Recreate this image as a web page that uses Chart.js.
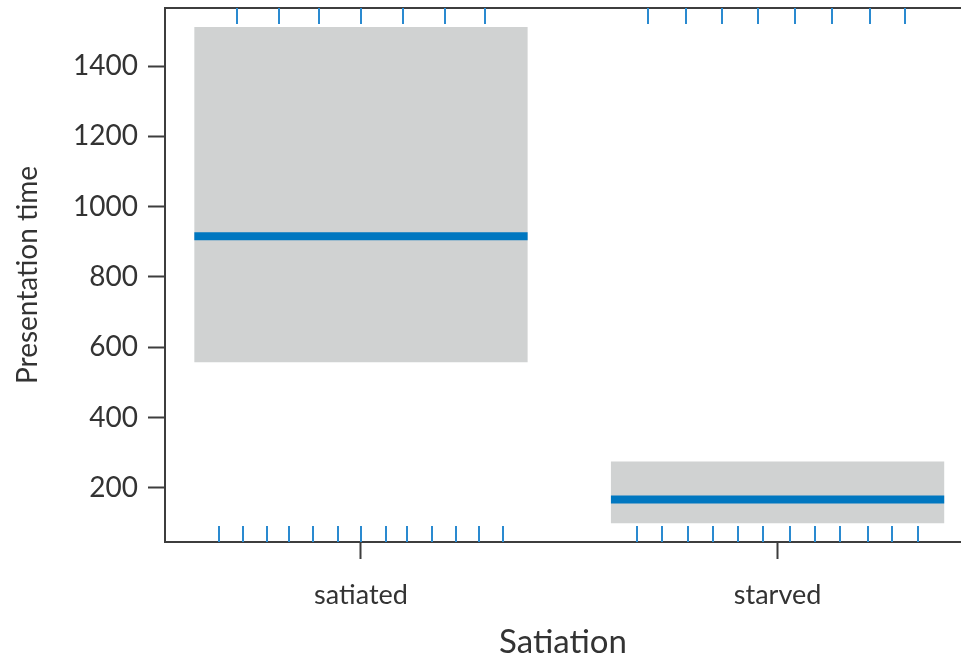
<!DOCTYPE html>
<html>
<head>
<meta charset="utf-8">
<script src="https://cdn.jsdelivr.net/npm/chart.js@4/dist/chart.umd.min.js"></script>
<style>
  html, body { margin: 0; padding: 0; background: #ffffff; overflow: hidden; }
  #wrap { width: 961px; height: 662px; }
</style>
</head>
<body>
<div id="wrap"><canvas id="c" width="961" height="662"></canvas></div>
<script>
// Effect of satiation on presentation time: fitted value with confidence band
const categories = ['satiated', 'starved'];
const fitValues = [916, 167];
const lowerValues = [557, 99];
const upperValues = [1511, 275];
const yTickValues = [200, 400, 600, 800, 1000, 1200, 1400];
const xTickValues = [1, 2];

// Rug marks (jittered observation positions along the category axis)
const rugTop = [0.703, 0.804, 0.900, 1.000, 1.102, 1.202, 1.298,
                1.688, 1.779, 1.866, 1.952, 2.043, 2.130, 2.222, 2.307];
const rugBottom = [0.659, 0.717, 0.774, 0.827, 0.885, 0.945, 1.000, 1.060, 1.110, 1.170, 1.228, 1.283, 1.341,
                   1.663, 1.722, 1.784, 1.845, 1.904, 1.966, 2.029, 2.091, 2.149, 2.216, 2.275, 2.336];

const axisColor = '#3d3d3d';
const textColor = '#333333';
const bandColor = '#d0d2d2';
const fitColor = '#0077c0';
const rugColor = '#2a8ad0';
const bandShare = 0.8;
const fontFamily = 'Lato, "Open Sans", sans-serif';

const bandData = categories.map((c, i) => ({ x: xTickValues[i], y: [lowerValues[i], upperValues[i]] }));
const fitDatasets = categories.map((c, i) => ({
  type: 'line',
  data: [
    { x: xTickValues[i] - bandShare / 2, y: fitValues[i] },
    { x: xTickValues[i] + bandShare / 2, y: fitValues[i] }
  ],
  borderColor: fitColor,
  borderWidth: 8,
  borderCapStyle: 'butt',
  pointRadius: 0,
  fill: false,
  order: 0
}));

const framePlugin = {
  id: 'frameAndRug',
  afterDatasetsDraw(chart) {
    const { ctx, chartArea, scales } = chart;
    ctx.save();
    // top edge of the panel
    ctx.strokeStyle = axisColor;
    ctx.lineWidth = 2;
    ctx.beginPath();
    ctx.moveTo(chartArea.left - 1, chartArea.top);
    ctx.lineTo(chartArea.right, chartArea.top);
    ctx.stroke();
    // rug marks
    ctx.strokeStyle = rugColor;
    ctx.lineWidth = 2;
    const len = 16;
    rugTop.forEach(v => {
      const px = Math.round(scales.x.getPixelForValue(v));
      ctx.beginPath();
      ctx.moveTo(px, chartArea.top);
      ctx.lineTo(px, chartArea.top + len);
      ctx.stroke();
    });
    rugBottom.forEach(v => {
      const px = Math.round(scales.x.getPixelForValue(v));
      ctx.beginPath();
      ctx.moveTo(px, chartArea.bottom);
      ctx.lineTo(px, chartArea.bottom - len);
      ctx.stroke();
    });
    ctx.restore();
  }
};

new Chart(document.getElementById('c'), {
  type: 'bar',
  data: {
    datasets: [
      {
        type: 'bar',
        data: bandData,
        backgroundColor: bandColor,
        borderWidth: 0,
        categoryPercentage: bandShare,
        barPercentage: 1.0,
        order: 1
      },
      ...fitDatasets
    ]
  },
  options: {
    responsive: false,
    devicePixelRatio: 1,
    animation: false,
    layout: { padding: { top: 8, left: 0, right: 0, bottom: 0 } },
    plugins: { legend: { display: false }, tooltip: { enabled: false } },
    scales: {
      x: {
        type: 'linear',
        min: 0.5296,
        max: 2.4403,
        offset: false,
        afterBuildTicks: s => { s.ticks = xTickValues.map(v => ({ value: v })); },
        afterFit: s => { s.height = 120; s.paddingLeft = 0; s.paddingRight = 0; },
        grid: { display: true, offset: false, drawOnChartArea: false, drawTicks: true, tickLength: 17, tickWidth: 2, tickColor: axisColor },
        border: { display: true, color: axisColor, width: 2 },
        ticks: {
          padding: 20,
          color: textColor,
          font: { family: fontFamily, size: 27 },
          maxRotation: 0,
          autoSkip: false,
          callback: v => categories[v - 1]
        },
        title: {
          display: true,
          text: 'Satiation',
          color: textColor,
          font: { family: fontFamily, size: 33 },
          padding: 0
        }
      },
      y: {
        type: 'linear',
        min: 46,
        max: 1565,
        afterBuildTicks: s => { s.ticks = yTickValues.map(v => ({ value: v })); },
        afterFit: s => { s.width = 165; s.paddingTop = 0; s.paddingBottom = 0; },
        grid: { display: true, drawOnChartArea: false, drawTicks: true, tickLength: 17, tickWidth: 2, tickColor: axisColor },
        border: { display: true, color: axisColor, width: 2 },
        ticks: {
          padding: 10,
          color: textColor,
          font: { family: fontFamily, size: 28 },
          callback: v => String(v)
        },
        title: {
          display: true,
          text: 'Presentation time',
          color: textColor,
          font: { family: fontFamily, size: 28 },
          padding: { top: 11, bottom: 0 }
        }
      }
    }
  },
  plugins: [framePlugin]
});
</script>
</body>
</html>
